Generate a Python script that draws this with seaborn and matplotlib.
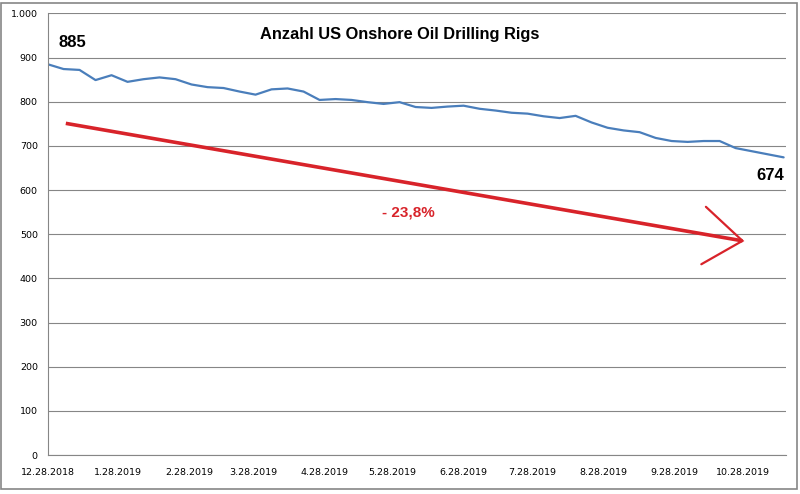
import matplotlib
matplotlib.use("Agg")
import matplotlib.pyplot as plt
import matplotlib.dates as mdates
import matplotlib.ticker as mticker
from matplotlib.patches import Rectangle
import numpy as np
import pandas as pd
import seaborn as sns

# Weekly rig counts, first week 12.28.2018
first_week = "2018-12-28"
rigs = [885, 874, 872, 849, 860, 845, 851, 855, 851, 839,
        833, 831, 823, 816, 828, 830, 823, 804, 806, 804,
        799, 795, 799, 788, 786, 789, 791, 784, 780, 775,
        773, 767, 763, 768, 753, 741, 735, 731, 718, 711,
        709, 711, 711, 695, 688, 681, 674]
weeks = pd.date_range(first_week, periods=len(rigs), freq="7D")

month_ticks = pd.date_range("2018-12-28", "2019-10-28", freq=pd.DateOffset(months=1))
y_ticks = np.arange(0, 1001, 100)

title = "Anzahl US Onshore Oil Drilling Rigs"
start_label = "885"
end_label = "674"
change_label = "- 23,8%"

# hand drawn trend arrow (date, value)
trend_x = ["2019-01-05", "2019-10-28"]
trend_y = [751, 485]
head_x = ["2019-10-12", "2019-10-28", "2019-10-10"]
head_y = [562, 485, 432]

df = pd.DataFrame({"week": weeks, "rigs": rigs})

sns.set_style("white")
plt.rcParams['font.family'] = ['DejaVu Sans']
plt.rcParams['text.color'] = 'black'
grid_grey = "#868686"
red = "#d8232a"

fig = plt.figure(figsize=(8, 4.94), dpi=100)
ax = fig.add_axes([0.0594, 0.0789, 0.923, 0.894])

fig.patches.append(Rectangle((0.0015, 0.01), 0.995, 0.984, transform=fig.transFigure,
                             fill=False, edgecolor=grid_grey, linewidth=1.2))

sns.lineplot(data=df, x="week", y="rigs", ax=ax, color="#4a7ebb", linewidth=1.6)

ax.plot(pd.to_datetime(trend_x), trend_y, color=red, linewidth=2.6, solid_capstyle="butt")
ax.plot(pd.to_datetime(head_x), head_y, color=red, linewidth=1.6, solid_joinstyle="miter")

ax.set_xlim(pd.Timestamp("2018-12-28"), pd.Timestamp("2019-11-16"))
ax.set_ylim(0, 1000)
ax.set_xticks(month_ticks)
ax.xaxis.set_major_formatter(mticker.FuncFormatter(
    lambda v, p: "{0.month}.{0.day}.{0.year}".format(mdates.num2date(v))))
ax.set_yticks(y_ticks)
ax.yaxis.set_major_formatter(mticker.FuncFormatter(
    lambda v, p: f"{int(v):,}".replace(",", ".")))
ax.grid(axis="y", color=grid_grey, linewidth=0.8)
ax.set_axisbelow(True)
ax.tick_params(axis="both", labelsize=6.8, colors=grid_grey, labelcolor="black",
               length=4, width=0.8, direction="out")
ax.tick_params(axis="x", pad=5)
ax.tick_params(axis="y", pad=3)
for side in ["top", "right"]:
    ax.spines[side].set_visible(False)
for side in ["left", "bottom"]:
    ax.spines[side].set_color(grid_grey)
    ax.spines[side].set_linewidth(0.8)
ax.set(xlabel="", ylabel="")

fig.text(0.5, 1 - 34 / 494, title, ha="center", va="center", fontsize=11.8,
         fontweight="bold", color="black", family=["Liberation Sans"])
ax.text(pd.Timestamp("2019-01-08"), 933, start_label, ha="center", va="center",
        fontsize=12, fontweight="bold", color="black", family=["Liberation Sans"])
ax.text(pd.Timestamp("2019-11-09"), 632, end_label, ha="center", va="center",
        fontsize=12, fontweight="bold", color="black", family=["Liberation Sans"])
ax.text(pd.Timestamp("2019-06-04"), 550, change_label, ha="center", va="center",
        fontsize=11, fontweight="bold", color=red, family=["Liberation Sans"])

fig.savefig("out.png", dpi=100)
